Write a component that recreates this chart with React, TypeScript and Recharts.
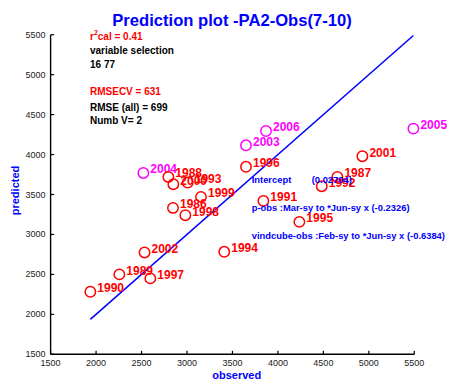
import React from "react";
import { ScatterChart, Scatter, XAxis, YAxis, ReferenceLine } from "recharts";

const years = [1986, 1987, 1988, 1989, 1990, 1991, 1992, 1993, 1994, 1995, 1996, 1997, 1998, 1999, 2000, 2001, 2002, 2003, 2004, 2005, 2006];
const observed = [2846, 4654, 2795, 2256, 1937, 3840, 4482, 3008, 3410, 4236, 3649, 2597, 2982, 3154, 2850, 4929, 2533, 3649, 2520, 5490, 3869];
const predicted = [3332, 3720, 3720, 2500, 2283, 3420, 3604, 3650, 2783, 3157, 3847, 2450, 3241, 3470, 3629, 3979, 2775, 4116, 3770, 4325, 4295];
const testYears = [2003, 2004, 2005, 2006];
const axisTicks = [1500, 2000, 2500, 3000, 3500, 4000, 4500, 5000, 5500];

const calData = years
  .map((y, i) => ({ year: y, x: observed[i], y: predicted[i] }))
  .filter((d) => !testYears.includes(d.year));
const testData = years
  .map((y, i) => ({ year: y, x: observed[i], y: predicted[i] }))
  .filter((d) => testYears.includes(d.year));

const lineMin = Math.min(...observed);
const lineMax = Math.max(...observed);

const FONT = "'Liberation Sans', Arial, Helvetica, sans-serif";

const makeShape = (color: string) => (props: any) => {
  const { cx, cy, payload } = props;
  return (
    <g>
      <circle cx={cx} cy={cy} r={5.2} fill="none" stroke={color} strokeWidth={1.5} />
      <text x={cx + 7} y={cy + 0.5} fill={color} fontSize={12} fontWeight="bold" fontFamily={FONT}>
        {payload.year}
      </text>
    </g>
  );
};

const YTick = (props: any) => {
  const { x, y, payload } = props;
  return (
    <g>
      <line x1={x} y1={y} x2={x + 3.5} y2={y} stroke="#000" strokeWidth={1.2} />
      <text x={x - 5} y={y + 3} textAnchor="end" fontSize={9} fill="#222" fontFamily={FONT}>
        {payload.value}
      </text>
    </g>
  );
};

const XTick = (props: any) => {
  const { x, y, payload } = props;
  return (
    <g>
      <line x1={x} y1={y} x2={x} y2={y - 3.5} stroke="#000" strokeWidth={1.2} />
      <text x={x} y={y + 12} textAnchor="middle" fontSize={9} fill="#222" fontFamily={FONT}>
        {payload.value}
      </text>
    </g>
  );
};

export default function App() {
  return (
    <div style={{ position: "absolute", left: 0, top: 0, width: 457, height: 380, background: "#fff" }}>
      <ScatterChart
        width={457}
        height={380}
        margin={{ top: 34.7, right: 42.7, bottom: 5.7, left: 0 }}
        style={{ overflow: "visible" }}
      >
        <XAxis
          type="number"
          dataKey="x"
          domain={[1500, 5500]}
          ticks={axisTicks}
          height={20}
          tickSize={0}
          tickMargin={0}
          tickLine={false}
          axisLine={{ stroke: "#000", strokeWidth: 1.4 }}
          tick={<XTick />}
        />
        <YAxis
          type="number"
          dataKey="y"
          domain={[1500, 5500]}
          ticks={axisTicks}
          width={50.6}
          tickSize={0}
          tickMargin={0}
          tickLine={false}
          axisLine={{ stroke: "#000", strokeWidth: 1.4 }}
          tick={<YTick />}
        />
        <ReferenceLine
          segment={[{ x: lineMin, y: lineMin }, { x: lineMax, y: lineMax }]}
          stroke="#0000ff"
          strokeWidth={1.5}
          ifOverflow="visible"
        />
        <Scatter data={testData} isAnimationActive={false} shape={makeShape("#ff00ff")} />
        <Scatter data={calData} isAnimationActive={false} shape={makeShape("#ff0000")} />
      </ScatterChart>
      <svg width={457} height={380} style={{ position: "absolute", left: 0, top: 0, pointerEvents: "none" }}>
        <text x={232} y={26} textAnchor="middle" fill="#0000ff" fontSize={16.6} fontWeight="bold" fontFamily={FONT}>
          Prediction plot -PA2-Obs(7-10)
        </text>
        <g fontFamily={FONT} fontWeight="bold" fontSize={10}>
          <text x={90} y={40} fill="#ff0000">
            r<tspan dy={-5} fontSize={7}>2</tspan>
            <tspan dy={5}>cal = 0.41</tspan>
          </text>
          <text x={90} y={54} fill="#000">variable selection</text>
          <text x={90} y={67.5} fill="#000">16 77</text>
          <text x={90} y={95} fill="#ff0000">RMSECV = 631</text>
          <text x={90} y={110.8} fill="#000">RMSE (all) = 699</text>
          <text x={90} y={124.2} fill="#000">Numb V= 2</text>
        </g>
        <g fontFamily={FONT} fontWeight="bold" fontSize={9.4} fill="#0000ff">
          <text x={251.7} y={182.5}>Intercept</text>
          <text x={311.7} y={182.5}>(0.02704)</text>
          <text x={251.7} y={210.7}>p-obs :Mar-sy to *Jun-sy x (-0.2326)</text>
          <text x={251.7} y={238.7}>vindcube-obs :Feb-sy to *Jun-sy x (-0.6384)</text>
        </g>
        <text x={236.7} y={379} textAnchor="middle" fill="#0000ff" fontSize={11} fontWeight="bold" fontFamily={FONT}>
          observed
        </text>
        <text
          x={0}
          y={0}
          transform="translate(19,190.5) rotate(-90)"
          textAnchor="middle"
          fill="#0000ff"
          fontSize={11}
          fontWeight="bold"
          fontFamily={FONT}
        >
          predicted
        </text>
      </svg>
    </div>
  );
}
